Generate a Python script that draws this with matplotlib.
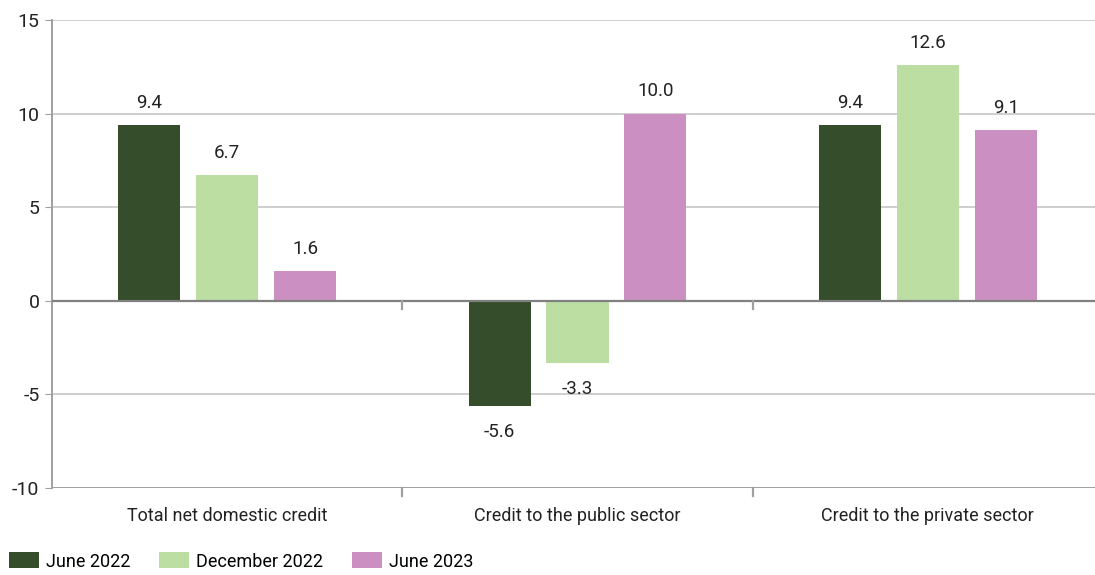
import matplotlib
matplotlib.use("Agg")
import matplotlib.pyplot as plt
import numpy as np
from matplotlib.patches import Patch

categories = ["Total net domestic credit", "Credit to the public sector", "Credit to the private sector"]
series_names = ["June 2022", "December 2022", "June 2023"]
june_2022 = [9.4, -5.6, 9.4]
december_2022 = [6.7, -3.3, 12.6]
june_2023 = [1.6, 10.0, 9.1]
colors = ["#354d2a", "#bcdea2", "#cb8fc1"]

plt.rcParams["font.family"] = ["Roboto", "DejaVu Sans"]

W, H = 1095, 575
fig = plt.figure(figsize=(W / 100, H / 100), dpi=100)
# axes runs a bit past the right edge, like the reference
ax = fig.add_axes([52 / W, 1 - 488 / H, 1051 / W, 468 / H])

x = np.arange(len(categories))
step, width = 0.2225, 0.177
for i, (vals, c) in enumerate(zip([june_2022, december_2022, june_2023], colors)):
    xs = x + (i - 1) * step
    ax.bar(xs, vals, width, color=c, zorder=3)
    for xi, v in zip(xs, vals):
        off = 16 if v >= 0 else -19
        ax.annotate(f"{v:.1f}", (xi, v), xytext=(0, off), textcoords="offset points",
                    ha="center", va="center", fontsize=13.5, color="#222222")

ax.set_xlim(-0.5, 2.5)
ax.set_ylim(-10, 15)
ax.set_yticks(range(-10, 16, 5))
ax.set_yticklabels([str(t) for t in range(-10, 16, 5)], fontsize=14)
for y in (-5, 5, 10, 15):
    ax.axhline(y, color="#c6c6c6", lw=1.2, zorder=1)
ax.axhline(0, color="#808080", lw=1.6, zorder=4)
ax.axhline(-10, color="#a0a0a0", lw=1.4, zorder=4)

# category boundary ticks on zero line and bottom line
for b in (0.5, 1.5):
    ax.plot([b, b], [0, -0.45], color="#a0a0a0", lw=1.6, zorder=4, clip_on=False)
    ax.plot([b, b], [-10, -10.45], color="#a0a0a0", lw=1.6, zorder=4, clip_on=False)

for s in ("top", "right", "bottom"):
    ax.spines[s].set_visible(False)
ax.spines["left"].set_color("#a0a0a0")
ax.spines["left"].set_linewidth(1.4)
ax.tick_params(axis="y", length=5, color="#a0a0a0", colors="#222222", pad=4)
ax.tick_params(axis="x", length=0, pad=14, labelsize=13, labelcolor="#222222")
ax.set_xticks(x)
ax.set_xticklabels(categories)

handles = [Patch(facecolor=c, label=n) for c, n in zip(colors, series_names)]
fig.legend(handles=handles, loc="lower left", bbox_to_anchor=(0.0, -0.008), ncol=3,
           frameon=False, fontsize=13, handlelength=1.65, handleheight=1.0,
           handletextpad=0.4, columnspacing=1.6, borderaxespad=0.1)

fig.savefig("out.png", dpi=100)
